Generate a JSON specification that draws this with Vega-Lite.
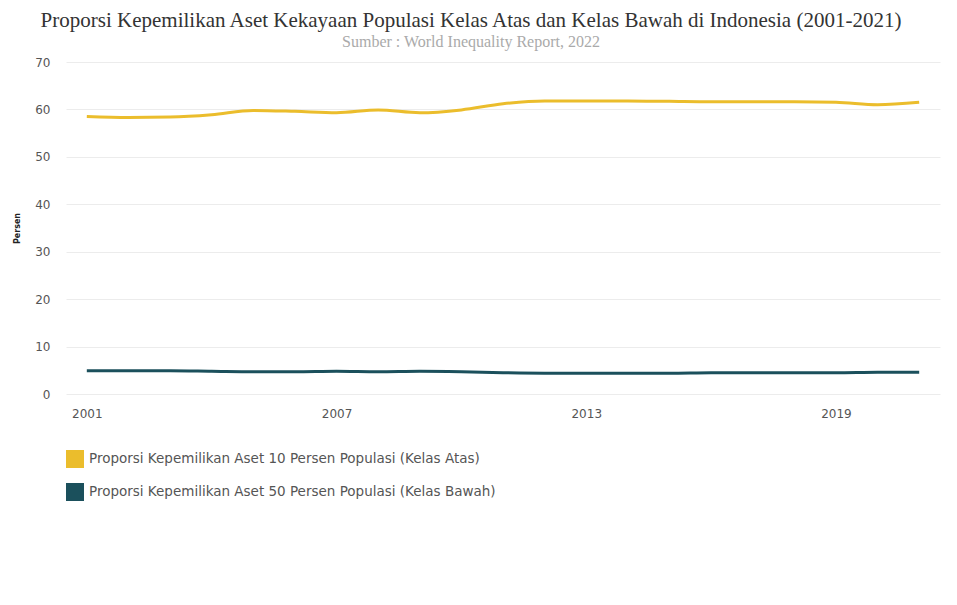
{
  "$schema": "https://vega.github.io/schema/vega-lite/v6.json",
  "autosize": "none",
  "width": 874,
  "height": 332,
  "padding": {"left": 66, "top": 62, "right": 17, "bottom": 211},
  "background": "white",
  "title": {
    "text": "Proporsi Kepemilikan Aset Kekayaan Populasi Kelas Atas dan Kelas Bawah di Indonesia (2001-2021)",
    "subtitle": "Sumber : World Inequality Report, 2022",
    "font": "Liberation Serif",
    "fontSize": 21,
    "fontWeight": "normal",
    "color": "#333333",
    "subtitleFont": "Liberation Serif",
    "subtitleFontSize": 16,
    "subtitleColor": "#aaaaaa",
    "subtitlePadding": 3,
    "anchor": "middle",
    "dx": -32,
    "offset": 6
  },
  "data": {
    "values": [
      {"tahun": 2001, "seri": "Proporsi Kepemilikan Aset 10 Persen Populasi (Kelas Atas)", "nilai": 58.5},
      {"tahun": 2002, "seri": "Proporsi Kepemilikan Aset 10 Persen Populasi (Kelas Atas)", "nilai": 58.3},
      {"tahun": 2003, "seri": "Proporsi Kepemilikan Aset 10 Persen Populasi (Kelas Atas)", "nilai": 58.4},
      {"tahun": 2004, "seri": "Proporsi Kepemilikan Aset 10 Persen Populasi (Kelas Atas)", "nilai": 58.9},
      {"tahun": 2005, "seri": "Proporsi Kepemilikan Aset 10 Persen Populasi (Kelas Atas)", "nilai": 59.8},
      {"tahun": 2006, "seri": "Proporsi Kepemilikan Aset 10 Persen Populasi (Kelas Atas)", "nilai": 59.6},
      {"tahun": 2007, "seri": "Proporsi Kepemilikan Aset 10 Persen Populasi (Kelas Atas)", "nilai": 59.3},
      {"tahun": 2008, "seri": "Proporsi Kepemilikan Aset 10 Persen Populasi (Kelas Atas)", "nilai": 59.9},
      {"tahun": 2009, "seri": "Proporsi Kepemilikan Aset 10 Persen Populasi (Kelas Atas)", "nilai": 59.3},
      {"tahun": 2010, "seri": "Proporsi Kepemilikan Aset 10 Persen Populasi (Kelas Atas)", "nilai": 59.9},
      {"tahun": 2011, "seri": "Proporsi Kepemilikan Aset 10 Persen Populasi (Kelas Atas)", "nilai": 61.2},
      {"tahun": 2012, "seri": "Proporsi Kepemilikan Aset 10 Persen Populasi (Kelas Atas)", "nilai": 61.8},
      {"tahun": 2013, "seri": "Proporsi Kepemilikan Aset 10 Persen Populasi (Kelas Atas)", "nilai": 61.8},
      {"tahun": 2014, "seri": "Proporsi Kepemilikan Aset 10 Persen Populasi (Kelas Atas)", "nilai": 61.8},
      {"tahun": 2015, "seri": "Proporsi Kepemilikan Aset 10 Persen Populasi (Kelas Atas)", "nilai": 61.7},
      {"tahun": 2016, "seri": "Proporsi Kepemilikan Aset 10 Persen Populasi (Kelas Atas)", "nilai": 61.6},
      {"tahun": 2017, "seri": "Proporsi Kepemilikan Aset 10 Persen Populasi (Kelas Atas)", "nilai": 61.6},
      {"tahun": 2018, "seri": "Proporsi Kepemilikan Aset 10 Persen Populasi (Kelas Atas)", "nilai": 61.6},
      {"tahun": 2019, "seri": "Proporsi Kepemilikan Aset 10 Persen Populasi (Kelas Atas)", "nilai": 61.5},
      {"tahun": 2020, "seri": "Proporsi Kepemilikan Aset 10 Persen Populasi (Kelas Atas)", "nilai": 61.0},
      {"tahun": 2021, "seri": "Proporsi Kepemilikan Aset 10 Persen Populasi (Kelas Atas)", "nilai": 61.5},
      {"tahun": 2001, "seri": "Proporsi Kepemilikan Aset 50 Persen Populasi (Kelas Bawah)", "nilai": 4.9},
      {"tahun": 2002, "seri": "Proporsi Kepemilikan Aset 50 Persen Populasi (Kelas Bawah)", "nilai": 4.9},
      {"tahun": 2003, "seri": "Proporsi Kepemilikan Aset 50 Persen Populasi (Kelas Bawah)", "nilai": 4.9},
      {"tahun": 2004, "seri": "Proporsi Kepemilikan Aset 50 Persen Populasi (Kelas Bawah)", "nilai": 4.8},
      {"tahun": 2005, "seri": "Proporsi Kepemilikan Aset 50 Persen Populasi (Kelas Bawah)", "nilai": 4.7},
      {"tahun": 2006, "seri": "Proporsi Kepemilikan Aset 50 Persen Populasi (Kelas Bawah)", "nilai": 4.7},
      {"tahun": 2007, "seri": "Proporsi Kepemilikan Aset 50 Persen Populasi (Kelas Bawah)", "nilai": 4.8},
      {"tahun": 2008, "seri": "Proporsi Kepemilikan Aset 50 Persen Populasi (Kelas Bawah)", "nilai": 4.7},
      {"tahun": 2009, "seri": "Proporsi Kepemilikan Aset 50 Persen Populasi (Kelas Bawah)", "nilai": 4.8},
      {"tahun": 2010, "seri": "Proporsi Kepemilikan Aset 50 Persen Populasi (Kelas Bawah)", "nilai": 4.7},
      {"tahun": 2011, "seri": "Proporsi Kepemilikan Aset 50 Persen Populasi (Kelas Bawah)", "nilai": 4.5},
      {"tahun": 2012, "seri": "Proporsi Kepemilikan Aset 50 Persen Populasi (Kelas Bawah)", "nilai": 4.4},
      {"tahun": 2013, "seri": "Proporsi Kepemilikan Aset 50 Persen Populasi (Kelas Bawah)", "nilai": 4.4},
      {"tahun": 2014, "seri": "Proporsi Kepemilikan Aset 50 Persen Populasi (Kelas Bawah)", "nilai": 4.4},
      {"tahun": 2015, "seri": "Proporsi Kepemilikan Aset 50 Persen Populasi (Kelas Bawah)", "nilai": 4.4},
      {"tahun": 2016, "seri": "Proporsi Kepemilikan Aset 50 Persen Populasi (Kelas Bawah)", "nilai": 4.5},
      {"tahun": 2017, "seri": "Proporsi Kepemilikan Aset 50 Persen Populasi (Kelas Bawah)", "nilai": 4.5},
      {"tahun": 2018, "seri": "Proporsi Kepemilikan Aset 50 Persen Populasi (Kelas Bawah)", "nilai": 4.5},
      {"tahun": 2019, "seri": "Proporsi Kepemilikan Aset 50 Persen Populasi (Kelas Bawah)", "nilai": 4.5},
      {"tahun": 2020, "seri": "Proporsi Kepemilikan Aset 50 Persen Populasi (Kelas Bawah)", "nilai": 4.6},
      {"tahun": 2021, "seri": "Proporsi Kepemilikan Aset 50 Persen Populasi (Kelas Bawah)", "nilai": 4.6}
    ]
  },
  "mark": {"type": "line", "strokeWidth": 3, "interpolate": "monotone"},
  "encoding": {
    "x": {
      "field": "tahun",
      "type": "quantitative",
      "scale": {"domain": [2000.5, 2021.5], "nice": false, "zero": false},
      "axis": {
        "title": null,
        "values": [2001, 2007, 2013, 2019],
        "format": "d",
        "domain": false,
        "ticks": false,
        "grid": false,
        "labelFont": "DejaVu Sans",
        "labelFontSize": 12,
        "labelColor": "#555555",
        "labelPadding": 14
      }
    },
    "y": {
      "field": "nilai",
      "type": "quantitative",
      "scale": {"domain": [0, 70], "nice": false},
      "axis": {
        "title": "Persen",
        "titleFont": "DejaVu Sans",
        "titleFontSize": 8,
        "titleFontWeight": "bold",
        "titleColor": "#222222",
        "titlePadding": 13,
        "values": [0, 10, 20, 30, 40, 50, 60, 70],
        "domain": false,
        "ticks": false,
        "gridColor": "#ececec",
        "gridWidth": 1,
        "labelFont": "DejaVu Sans",
        "labelFontSize": 12,
        "labelColor": "#555555",
        "labelPadding": 16
      }
    },
    "color": {
      "field": "seri",
      "type": "nominal",
      "scale": {
        "domain": [
          "Proporsi Kepemilikan Aset 10 Persen Populasi (Kelas Atas)",
          "Proporsi Kepemilikan Aset 50 Persen Populasi (Kelas Bawah)"
        ],
        "range": ["#EBBD2C", "#1B505C"]
      },
      "legend": {
        "title": null,
        "orient": "none",
        "legendX": 0,
        "legendY": 388,
        "direction": "vertical",
        "symbolType": "square",
        "symbolSize": 324,
        "symbolStrokeWidth": 0,
        "symbolOpacity": 1,
        "rowPadding": 15,
        "labelFont": "DejaVu Sans",
        "labelFontSize": 13.5,
        "labelColor": "#555555",
        "labelOffset": 5,
        "labelLimit": 600,
        "encode": {
          "symbols": {
            "update": {
              "fill": {"scale": "color", "field": "value"},
              "fillOpacity": {"value": 1}
            }
          }
        }
      }
    }
  },
  "config": {
    "view": {"stroke": null}
  }
}
